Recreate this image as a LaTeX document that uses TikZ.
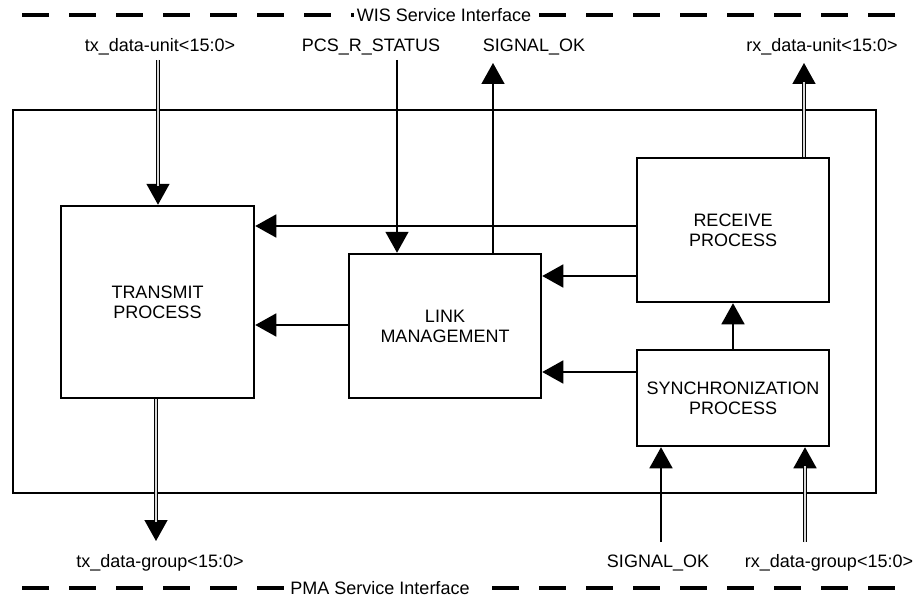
\documentclass[tikz,border=0pt]{standalone}
\usepackage{fontspec}
\setmainfont{Liberation Sans}
\usetikzlibrary{arrows.meta,positioning}

\begin{document}
\begin{tikzpicture}[
    x=1pt, y=-1pt,
    font=\fontsize{18}{20}\selectfont,
    box/.style={draw, line width=2.5pt, align=center, inner sep=0pt},
    lbl/.style={anchor=base, inner sep=0pt},
    sig/.style={-{Triangle[width=23pt,length=21pt]}, line width=1.5pt},
    bus/.style={double=gray!30, line width=1.4pt, double distance=1.6pt},
    iface/.style={line width=4pt, dash pattern=on 27pt off 20pt}
]
\useasboundingbox (0,0) rectangle (917,599);

% service interfaces
\draw[iface] (22,15) -- (900,15);
\node[fill=white, inner xsep=3pt, inner ysep=1pt] (wis) at (444,15) {WIS Service Interface};
\draw[iface] (22,588) -- (900,588);
\node[fill=white, inner xsep=2pt, inner ysep=1pt] (pma) at (380,588) {PMA Service Interface};

% layer boundary
\node[draw, line width=1.5pt, minimum width=863pt, minimum height=383pt, inner sep=0pt] (layer) at (444.5,301.5) {};

% processes
\node[box, minimum width=193pt, minimum height=192pt] (tx) at (157.5,302) {TRANSMIT\\PROCESS};
\node[box, minimum width=192pt, minimum height=144pt] (link) at (445,326) {LINK\\MANAGEMENT};
\node[box, minimum width=192pt, minimum height=144pt] (rx) at (733,230) {RECEIVE\\PROCESS};
\node[box, minimum width=192pt, minimum height=96pt] (sync) at (733,398) {SYNCHRONIZATION\\PROCESS};

% signal labels
\node[lbl] (txunit) at (160,52) {tx\_data-unit<15:0>};
\node[lbl] (pcs) at (371,52) {PCS\_R\_STATUS};
\node[lbl] (oktop) at (534,52) {SIGNAL\_OK};
\node[lbl] (rxunit) at (822,52) {rx\_data-unit<15:0>};
\node[lbl] (txgroup) at (160,567) {tx\_data-group<15:0>};
\node[lbl] (okbot) at (658,567) {SIGNAL\_OK};
\node[lbl] (rxgroup) at (829,567) {rx\_data-group<15:0>};

\coordinate (txin) at (158,60);
\coordinate (pcsin) at (397,60);
\coordinate (okout) at (493,63);
\coordinate (rxout) at (804,63);
\coordinate (txout) at (156,541);
\coordinate (okin) at (661,542);
\coordinate (rxin) at (805,542);

% connectors
\draw[sig] (txin) -- (txin |- tx.north);
\draw[bus, shorten >=19pt] (txin) -- (txin |- tx.north);
\draw[sig] (pcsin) -- (pcsin |- link.north);
\draw[sig] (okout |- link.north) -- (okout);
\draw[sig] (rxout |- rx.north) -- (rxout);
\draw[bus, shorten >=19pt] (rxout |- rx.north) -- (rxout);

\draw[sig] (rx.west |- 0,226) -- (tx.east |- 0,226);
\draw[sig] (rx.west |- 0,276) -- (link.east |- 0,276);
\draw[sig] (link.west |- 0,325) -- (tx.east |- 0,325);
\draw[sig] (sync.west |- 0,372) -- (link.east |- 0,372);
\draw[sig] (sync.north) -- (rx.south);

\draw[sig] (txout |- tx.south) -- (txout);
\draw[bus, shorten >=19pt] (txout |- tx.south) -- (txout);
\draw[sig] (okin) -- (okin |- sync.south);
\draw[sig] (rxin) -- (rxin |- sync.south);
\draw[bus, shorten >=19pt] (rxin) -- (rxin |- sync.south);
\end{tikzpicture}
\end{document}
